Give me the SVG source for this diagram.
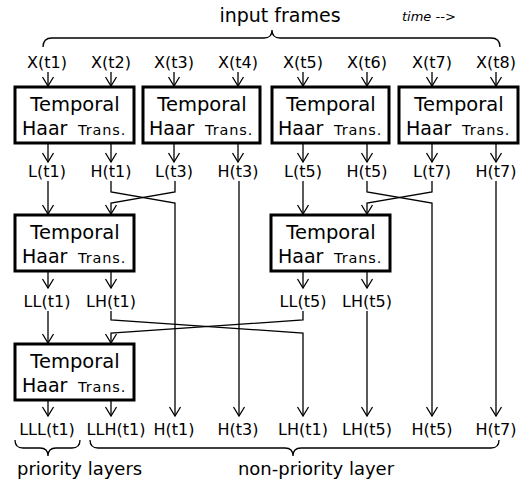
<svg xmlns="http://www.w3.org/2000/svg" width="525" height="482" viewBox="0 0 525 482">
<style>
text{font-family:"DejaVu Sans",sans-serif;fill:#000}
.lbl{font-size:16px;text-anchor:middle}
.big{font-size:19px}
.t1{font-size:19.5px}
.sm{font-size:14.5px;letter-spacing:0.9px}
.box{fill:#fff;stroke:#000;stroke-width:3}
.c{fill:none;stroke:#000;stroke-width:1.3}
.a{marker-end:url(#ah)}
.br{fill:none;stroke:#000;stroke-width:1.3}
.cap{font-size:18px}
</style>
<defs>
<marker id="ah" markerUnits="userSpaceOnUse" markerWidth="20" markerHeight="20" refX="0" refY="0" viewBox="-10 -10 20 20" orient="auto" overflow="visible">
<path d="M-9,-5.5 L0,0 L-9,5.5" fill="none" stroke="#000" stroke-width="1.3"/>
</marker>
</defs>
<rect width="525" height="482" fill="#fff"/>

<g id="top-labels">
<text x="280" y="22" font-size="19" text-anchor="middle">input frames</text>
<text x="402" y="21" font-size="13" font-style="italic">time --&gt;</text>
<path class="br" d="M43,47 Q43,38 52,38 H264 Q272,38 272,30 Q272,38 280,38 H491 Q500,38 500,47"/>
</g>

<g id="inputs">
<text class="lbl" x="47" y="68">X(t1)</text>
<text class="lbl" x="111" y="68">X(t2)</text>
<text class="lbl" x="174" y="68">X(t3)</text>
<text class="lbl" x="238" y="68">X(t4)</text>
<text class="lbl" x="303" y="68">X(t5)</text>
<text class="lbl" x="367" y="68">X(t6)</text>
<text class="lbl" x="432" y="68">X(t7)</text>
<text class="lbl" x="496" y="68">X(t8)</text>
</g>

<g id="connectors">
<path class="c a" d="M48,72 V86"/>
<path class="c a" d="M111,72 V86"/>
<path class="c a" d="M174,72 V86"/>
<path class="c a" d="M238,72 V86"/>
<path class="c a" d="M303,72 V86"/>
<path class="c a" d="M367,72 V86"/>
<path class="c a" d="M432,72 V86"/>
<path class="c a" d="M496,72 V86"/>

<path class="c a" d="M48,144 V162"/>
<path class="c a" d="M111,144 V162"/>
<path class="c a" d="M174,144 V162"/>
<path class="c a" d="M238,144 V162"/>
<path class="c a" d="M303,144 V162"/>
<path class="c a" d="M367,144 V162"/>
<path class="c a" d="M432,144 V162"/>
<path class="c a" d="M496,144 V162"/>

<path class="c a" d="M48,181 V214"/>
<path class="c a" d="M111,181 V192 L175,203 V416"/>
<path class="c a" d="M175,181 V192 L111,203 V214"/>
<path class="c a" d="M239,181 V416"/>
<path class="c a" d="M303,181 V214"/>
<path class="c a" d="M367,181 V192 L432,203 V416"/>
<path class="c a" d="M432,181 V192 L367,203 V214"/>
<path class="c a" d="M496,181 V416"/>

<path class="c a" d="M48,272 V288"/>
<path class="c a" d="M111,272 V288"/>
<path class="c a" d="M303,272 V288"/>
<path class="c a" d="M367,272 V288"/>

<path class="c a" d="M48,311 V343"/>
<path class="c a" d="M111,311 V320 L303,333 V416"/>
<path class="c a" d="M303,311 V320 L111,333 V343"/>
<path class="c a" d="M367,311 V416"/>

<path class="c a" d="M48,401 V416"/>
<path class="c a" d="M111,401 V416"/>
</g>

<g id="haar1">
<rect class="box" x="15" y="87" width="119" height="56"/>
<text class="t1" x="75" y="111" text-anchor="middle">Temporal</text>
<text x="22" y="135"><tspan class="big">Haar</tspan><tspan class="sm" x="78">Trans.</tspan></text>
</g>
<g id="haar2">
<rect class="box" x="143" y="87" width="117" height="56"/>
<text class="t1" x="202" y="111" text-anchor="middle">Temporal</text>
<text x="149" y="135"><tspan class="big">Haar</tspan><tspan class="sm" x="205">Trans.</tspan></text>
</g>
<g id="haar3">
<rect class="box" x="272" y="87" width="117" height="56"/>
<text class="t1" x="331" y="111" text-anchor="middle">Temporal</text>
<text x="278" y="135"><tspan class="big">Haar</tspan><tspan class="sm" x="334">Trans.</tspan></text>
</g>
<g id="haar4">
<rect class="box" x="399" y="87" width="119" height="56"/>
<text class="t1" x="459" y="111" text-anchor="middle">Temporal</text>
<text x="406" y="135"><tspan class="big">Haar</tspan><tspan class="sm" x="462">Trans.</tspan></text>
</g>

<g id="level1-outputs">
<text class="lbl" x="47" y="177">L(t1)</text>
<text class="lbl" x="111" y="177">H(t1)</text>
<text class="lbl" x="174" y="177">L(t3)</text>
<text class="lbl" x="238" y="177">H(t3)</text>
<text class="lbl" x="303" y="177">L(t5)</text>
<text class="lbl" x="367" y="177">H(t5)</text>
<text class="lbl" x="432" y="177">L(t7)</text>
<text class="lbl" x="496" y="177">H(t7)</text>
</g>

<g id="haar5">
<rect class="box" x="15" y="215" width="119" height="56"/>
<text class="t1" x="75" y="239" text-anchor="middle">Temporal</text>
<text x="22" y="263"><tspan class="big">Haar</tspan><tspan class="sm" x="78">Trans.</tspan></text>
</g>
<g id="haar6">
<rect class="box" x="271" y="215" width="119" height="56"/>
<text class="t1" x="331" y="239" text-anchor="middle">Temporal</text>
<text x="278" y="263"><tspan class="big">Haar</tspan><tspan class="sm" x="334">Trans.</tspan></text>
</g>

<g id="level2-outputs">
<text class="lbl" x="47" y="307">LL(t1)</text>
<text class="lbl" x="111" y="307">LH(t1)</text>
<text class="lbl" x="303" y="307">LL(t5)</text>
<text class="lbl" x="367" y="307">LH(t5)</text>
</g>

<g id="haar7">
<rect class="box" x="15" y="344" width="119" height="56"/>
<text class="t1" x="75" y="368" text-anchor="middle">Temporal</text>
<text x="22" y="392"><tspan class="big">Haar</tspan><tspan class="sm" x="78">Trans.</tspan></text>
</g>

<g id="outputs">
<text class="lbl" x="47" y="435">LLL(t1)</text>
<text class="lbl" x="116" y="435">LLH(t1)</text>
<text class="lbl" x="174" y="435">H(t1)</text>
<text class="lbl" x="238" y="435">H(t3)</text>
<text class="lbl" x="303" y="435">LH(t1)</text>
<text class="lbl" x="367" y="435">LH(t5)</text>
<text class="lbl" x="432" y="435">H(t5)</text>
<text class="lbl" x="496" y="435">H(t7)</text>
</g>

<g id="bottom-labels">
<path class="br" d="M15,440 Q15,448 23,448 H40 Q48,448 48,456 Q48,448 56,448 H72 Q80,448 80,440"/>
<path class="br" d="M90,440 Q90,448 98,448 H285 Q293,448 293,456 Q293,448 301,448 H491 Q499,448 499,440"/>
<text class="cap" x="17" y="475" font-size="17.5">priority layers</text>
<text class="cap" x="316" y="475" text-anchor="middle">non-priority layer</text>
</g>
</svg>
